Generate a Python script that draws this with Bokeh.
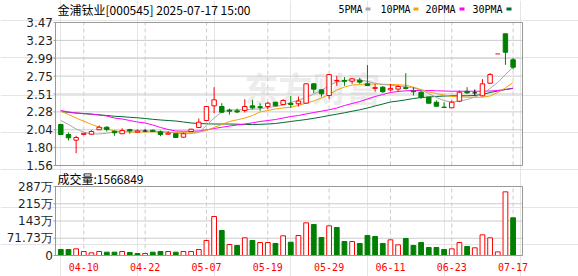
from bokeh.plotting import figure
from bokeh.models import ColumnDataSource, Label, Range1d
from bokeh.core.properties import value
from bokeh.embed import file_html
from bokeh.resources import INLINE

stock_title = "金浦钛业[000545] 2025-07-17 15:00"
volume_title = "成交量:1566849"
watermark = "东方财富"

open_ = [2.108, 1.974, 1.898, 1.975, 1.978, 2.037, 2.071, 2.018, 1.984, 2.040,
         2.005, 2.020, 2.030, 2.010, 1.978, 1.984, 1.938, 2.014, 2.068, 2.161,
         2.357, 2.348, 2.300, 2.290, 2.295, 2.357, 2.345, 2.348, 2.405, 2.375,
         2.390, 2.385, 2.392, 2.651, 2.571, 2.495, 2.690, 2.695, 2.686, 2.700,
         2.651, 2.590, 2.606, 2.570, 2.580, 2.600, 2.555, 2.539, 2.473, 2.405,
         2.340, 2.331, 2.419, 2.550, 2.530, 2.491, 2.659, 3.050, 3.319, 2.972]
high = [2.115, 2.001, 1.957, 1.992, 2.031, 2.094, 2.085, 2.027, 2.058, 2.050,
        2.041, 2.045, 2.040, 2.027, 2.018, 1.990, 2.000, 2.050, 2.188, 2.350,
        2.606, 2.392, 2.320, 2.320, 2.446, 2.437, 2.390, 2.410, 2.410, 2.446,
        2.490, 2.482, 2.660, 2.660, 2.575, 2.775, 2.758, 2.740, 2.720, 2.730,
        2.900, 2.650, 2.620, 2.650, 2.633, 2.793, 2.606, 2.560, 2.480, 2.428,
        2.405, 2.428, 2.560, 2.606, 2.575, 2.713, 2.793, 3.050, 3.320, 2.993]
low = [1.970, 1.894, 1.724, 1.965, 1.975, 2.035, 2.014, 1.957, 1.980, 1.984,
       2.000, 2.012, 2.010, 1.951, 1.975, 1.930, 1.930, 2.010, 2.060, 2.160,
       2.259, 2.270, 2.240, 2.260, 2.268, 2.310, 2.290, 2.310, 2.350, 2.370,
       2.330, 2.348, 2.385, 2.525, 2.480, 2.450, 2.624, 2.625, 2.650, 2.650,
       2.625, 2.545, 2.530, 2.550, 2.545, 2.575, 2.495, 2.450, 2.390, 2.350,
       2.330, 2.330, 2.405, 2.518, 2.495, 2.482, 2.650, 3.050, 2.905, 2.842]
close = [1.974, 1.930, 1.934, 1.990, 2.014, 2.071, 2.041, 1.997, 2.027, 2.022,
         2.020, 2.020, 2.015, 1.974, 1.992, 1.934, 1.984, 2.045, 2.138, 2.348,
         2.437, 2.272, 2.285, 2.275, 2.348, 2.330, 2.335, 2.392, 2.357, 2.428,
         2.375, 2.420, 2.651, 2.580, 2.518, 2.775, 2.695, 2.685, 2.718, 2.673,
         2.628, 2.600, 2.545, 2.590, 2.615, 2.588, 2.545, 2.473, 2.392, 2.352,
         2.335, 2.405, 2.539, 2.530, 2.530, 2.651, 2.775, 3.050, 3.073, 2.873]
volume = [250000, 248000, 277000, 166000, 110000, 166000, 139000, 139000, 166000, 125000,
          83000, 83000, 139000, 166000, 166000, 139000, 166000, 166000, 249000, 624000,
          1622000, 1040000, 457000, 416000, 735000, 624000, 540000, 540000, 499000, 818000,
          554000, 832000, 1358000, 1289000, 748000, 1234000, 1164000, 582000, 582000, 499000,
          832000, 790000, 499000, 651000, 443000, 707000, 416000, 540000, 333000, 333000,
          250000, 277000, 540000, 374000, 319000, 859000, 735000, 152000, 2647000, 1566849]
ma5 = [2.161, 2.108, 2.047, 2.007, 1.981, 1.981, 1.991, 2.005, 2.014, 2.021,
       2.027, 2.023, 2.018, 2.011, 2.005, 1.991, 1.983, 1.987, 2.001, 2.094,
       2.194, 2.275, 2.301, 2.304, 2.304, 2.311, 2.317, 2.335, 2.348, 2.368,
       2.401, 2.435, 2.468, 2.515, 2.562, 2.628, 2.675, 2.695, 2.705, 2.702,
       2.682, 2.659, 2.642, 2.633, 2.622, 2.611, 2.595, 2.568, 2.522, 2.468,
       2.428, 2.405, 2.421, 2.441, 2.475, 2.515, 2.590, 2.669, 2.775, 2.873]
ma10 = [2.285, 2.241, 2.194, 2.152, 2.108, 2.074, 2.047, 2.021, 2.014, 2.007,
        2.005, 2.007, 2.010, 2.007, 2.005, 2.001, 1.998, 1.997, 2.007, 2.027,
        2.068, 2.108, 2.148, 2.170, 2.194, 2.228, 2.275, 2.295, 2.315, 2.328,
        2.339, 2.361, 2.395, 2.421, 2.461, 2.508, 2.568, 2.608, 2.635, 2.642,
        2.649, 2.649, 2.645, 2.642, 2.638, 2.633, 2.606, 2.575, 2.542, 2.522,
        2.502, 2.482, 2.478, 2.472, 2.472, 2.472, 2.488, 2.535, 2.595, 2.669]
ma20 = [2.295, 2.275, 2.261, 2.255, 2.248, 2.234, 2.221, 2.194, 2.181, 2.161,
        2.141, 2.128, 2.101, 2.068, 2.041, 2.021, 2.018, 2.018, 2.021, 2.037,
        2.054, 2.071, 2.087, 2.101, 2.114, 2.130, 2.148, 2.161, 2.174, 2.194,
        2.214, 2.228, 2.248, 2.268, 2.285, 2.304, 2.328, 2.361, 2.388, 2.415,
        2.448, 2.482, 2.508, 2.535, 2.548, 2.558, 2.562, 2.562, 2.562, 2.558,
        2.555, 2.552, 2.552, 2.552, 2.552, 2.552, 2.555, 2.562, 2.575, 2.588]
ma30 = [2.281, 2.271, 2.261, 2.252, 2.244, 2.237, 2.228, 2.218, 2.212, 2.204,
        2.197, 2.188, 2.177, 2.168, 2.161, 2.154, 2.141, 2.128, 2.121, 2.117,
        2.114, 2.114, 2.114, 2.112, 2.108, 2.108, 2.110, 2.114, 2.121, 2.134,
        2.148, 2.161, 2.174, 2.190, 2.208, 2.228, 2.245, 2.264, 2.285, 2.304,
        2.328, 2.355, 2.381, 2.408, 2.421, 2.437, 2.455, 2.468, 2.475, 2.482,
        2.488, 2.491, 2.491, 2.491, 2.495, 2.508, 2.535, 2.555, 2.575, 2.592]

tick_index = [3, 11, 19, 27, 35, 43, 51, 59]
tick_dates = ["04-10", "04-22", "05-07", "05-19", "05-29", "06-11", "06-23", "07-17"]
price_ticks = [1.56, 1.79875, 2.0375, 2.27625, 2.515, 2.75375, 2.9925, 3.23125, 3.47]
price_tick_labels = ["1.56", "1.80", "2.04", "2.28", "2.51", "2.75", "2.99", "3.23", "3.47"]
volume_ticks = [0, 717250, 1434500, 2151750, 2869000]
volume_tick_labels = ["0", "71.73万", "143万", "215万", "287万"]
ma_names = ["5PMA", "10PMA", "20PMA", "30PMA"]

# ---------------- style / layout (pixels) ----------------
RED, GREEN, BLACK = "#ff0000", "#008000", "#000000"
MA_COLORS = ["#a8a8a8", "#f5a20a", "#ff00ff", "#006b2e"]
GRID = "#cccccc"
FRAME = "#999999"
LABEL_COLOR = "#1f1f2a"
W, H = 578, 276
IDX0_PX, PX_PER_IDX = 60.3, 7.666      # pixel of first candle, pixels per candle
BOX_L, BOX_R = 55, 522                  # chart boxes, left / right
PR_TOP_PX, PR_BOT_PX = 22, 165          # price box top / bottom
V_TOP_PX, V_BOT_PX = 186, 255           # volume box top / bottom
YMIN, YMAX = price_ticks[0], price_ticks[-1]
VMAX = volume_ticks[-1]


def px_x(px):
    return (px - IDX0_PX) / PX_PER_IDX


def py_price(py):
    return YMAX - (py - PR_TOP_PX) / (PR_BOT_PX - PR_TOP_PX) * (YMAX - YMIN)


def py_vol(py):
    return VMAX * (V_BOT_PX - py) / (V_BOT_PX - V_TOP_PX)


n = len(close)
idx = list(range(n))
prev_close = [open_[0]] + close[:-1]
c_col, c_fill, v_col, v_fill = [], [], [], []
for o, c, pc in zip(open_, close, prev_close):
    if c > o:
        col = RED
    elif c < o:
        col = GREEN
    else:
        col = RED if c > pc else (GREEN if c < pc else BLACK)
    c_col.append(col)
    c_fill.append("white" if c > o else col)
    vc = RED if c >= pc else GREEN
    v_col.append(vc)
    v_fill.append("white" if vc == RED else GREEN)

src = ColumnDataSource(dict(
    x=idx, o=open_, h=high, l=low, c=close,
    top=[max(a, b) for a, b in zip(open_, close)],
    bot=[min(a, b) for a, b in zip(open_, close)],
    col=c_col, fill=c_fill, vol=volume, vcol=v_col, vfill=v_fill))
body_rows = [i for i in idx if open_[i] != close[i]]
doji_rows = [i for i in idx if open_[i] == close[i]]
body_src = ColumnDataSource({k: [v[i] for i in body_rows] for k, v in src.data.items()})
doji_src = ColumnDataSource(dict(
    x0=[i - 0.3 for i in doji_rows], x1=[i + 0.3 for i in doji_rows],
    y=[close[i] for i in doji_rows], col=[c_col[i] for i in doji_rows]))

xl, xr = px_x(BOX_L), px_x(BOX_R)

p = figure(width=W, height=H, x_range=Range1d(px_x(0), px_x(W)),
           y_range=Range1d(py_price(H), py_price(0)),
           x_axis_location=None, y_axis_location=None, toolbar_location=None,
           output_backend="svg", min_border=0)
p.extra_y_ranges = {"vol": Range1d(py_vol(H), py_vol(0))}
p.outline_line_color = None
p.background_fill_color = "white"
p.border_fill_color = "white"

# watermark
p.add_layout(Label(x=px_x(312), y=py_price(87), text=watermark, text_font="Noto Sans CJK SC",
                   text_font_size="34px", text_font_style="bold", text_color="#ececec",
                   text_align="center", text_baseline="middle", level="underlay"))

# ---------------- price chart ----------------
np_ = len(price_ticks)
p.segment(x0=[xl] * np_, x1=[xr] * np_, y0=price_ticks, y1=price_ticks, line_color=GRID)
p.segment(x0=tick_index, x1=tick_index, y0=[YMIN] * len(tick_index), y1=[YMAX] * len(tick_index),
          line_color=GRID, line_dash="4 3")

for vals, colr in zip([ma30, ma20, ma10, ma5], MA_COLORS[::-1]):
    p.line(idx, vals, line_color=colr, line_width=1)

p.segment(x0="x", y0="h", x1="x", y1="l", source=src, line_color="col", line_width=1)
p.vbar(x="x", width=0.58, top="top", bottom="bot", source=body_src,
       fill_color="fill", line_color="col", line_width=1)
p.segment(x0="x0", y0="y", x1="x1", y1="y", source=doji_src, line_color="col", line_width=1)

p.quad(left=[xl], right=[xr], top=[YMAX], bottom=[YMIN], fill_color=None, line_color=FRAME)
p.segment(x0=[px_x(BOX_L - 2)] * np_, x1=[xl] * np_, y0=price_ticks, y1=price_ticks,
          line_color=FRAME)
p.text(x=[px_x(BOX_L - 2.5)] * np_, y=price_ticks, text=price_tick_labels,
       text_align="right", text_baseline="middle", text_font=value("DejaVu Sans"),
       text_font_size="12px", text_color=LABEL_COLOR)

# title + legend
p.text(x=[px_x(57)], y=[py_price(9)], text=[stock_title], text_baseline="middle",
       text_font=value("Noto Sans CJK SC"), text_font_size="12px", text_color="black")
leg_text_px = [338, 380, 425, 472]
leg_box_px = [365, 413, 459, 506]
p.text(x=[px_x(t) for t in leg_text_px], y=[py_price(9)] * 4, text=ma_names,
       text_baseline="middle", text_font=value("DejaVu Sans Mono"), text_font_size="10px",
       text_color="black")
p.quad(left=[px_x(b) for b in leg_box_px], right=[px_x(b + 5) for b in leg_box_px],
       top=[py_price(7)] * 4, bottom=[py_price(10)] * 4, fill_color=MA_COLORS, line_color=None)

# ---------------- volume chart ----------------
nv = len(volume_ticks)
p.segment(x0=[xl] * nv, x1=[xr] * nv, y0=volume_ticks, y1=volume_ticks, line_color=GRID,
          y_range_name="vol")
p.segment(x0=tick_index, x1=tick_index, y0=[0] * len(tick_index), y1=[VMAX] * len(tick_index),
          line_color=GRID, line_dash="4 3", y_range_name="vol")
p.vbar(x="x", width=0.62, top="vol", bottom=0, source=src, fill_color="vfill",
       line_color="vcol", line_width=1, y_range_name="vol")
p.quad(left=[xl], right=[xr], top=[VMAX], bottom=[0], fill_color=None, line_color=FRAME,
       y_range_name="vol")
p.segment(x0=[px_x(BOX_L - 2)] * nv, x1=[xl] * nv, y0=volume_ticks, y1=volume_ticks,
          line_color=FRAME, y_range_name="vol")
p.text(x=[px_x(BOX_L - 2.5)] * nv, y=volume_ticks, text=volume_tick_labels,
       text_align="right", text_baseline="middle", text_font=value("DejaVu Sans"),
       text_font_size="12px", text_color=LABEL_COLOR, y_range_name="vol")
p.text(x=[px_x(57)], y=[py_vol(178)], text=[volume_title], text_baseline="middle",
       text_font=value("Noto Sans CJK SC"), text_font_size="12px", text_color="black",
       y_range_name="vol")
p.text(x=tick_index, y=[py_vol(266)] * len(tick_index), text=tick_dates, text_align="center",
       text_baseline="middle", text_font=value("DejaVu Sans Mono"), text_font_size="10px",
       text_color=RED, y_range_name="vol")

open("out.html", "w").write(file_html(p, INLINE))
